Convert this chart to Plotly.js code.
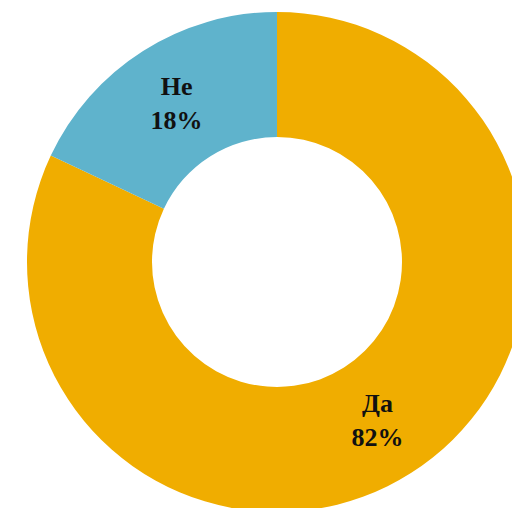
<!DOCTYPE html>
<html>
<head>
<meta charset="utf-8">
<script src="https://cdn.plot.ly/plotly-3.0.1.min.js"></script>
<style>
html,body{margin:0;padding:0;overflow:hidden;background:#fff;width:512px;height:508px;}
#chart{width:530px;height:515px;}
</style>
</head>
<body>
<div id="chart"></div>
<script>
const labels = ["Да", "Не"];
const values = [82, 18];
const colors = ["#F0AD00", "#5FB3CC"];

const W = 530, H = 515;
const cx = 277, cy = 262, r = 250;

const data = [{
  type: "pie",
  labels: labels,
  values: values,
  sort: false,
  direction: "clockwise",
  rotation: 0,
  hole: 0.5,
  marker: {colors: colors, line: {width: 0}},
  texttemplate: "%{label}<br>%{percent:.0%}",
  textinfo: "text",
  textposition: "inside",
  insidetextorientation: "horizontal",
  textfont: {family: "Liberation Serif, DejaVu Serif, serif", size: 26, color: "#111111", weight: "bold"},
  domain: {x: [(cx - r) / W, (cx + r) / W], y: [1 - (cy + r) / H, 1 - (cy - r) / H]},
  showlegend: false,
  hoverinfo: "none"
}];

const layout = {
  width: W, height: H,
  margin: {l: 0, r: 0, t: 0, b: 0},
  paper_bgcolor: "#ffffff",
  showlegend: false
};

Plotly.newPlot("chart", data, layout, {displayModeBar: false, staticPlot: true});
</script>
</body>
</html>
